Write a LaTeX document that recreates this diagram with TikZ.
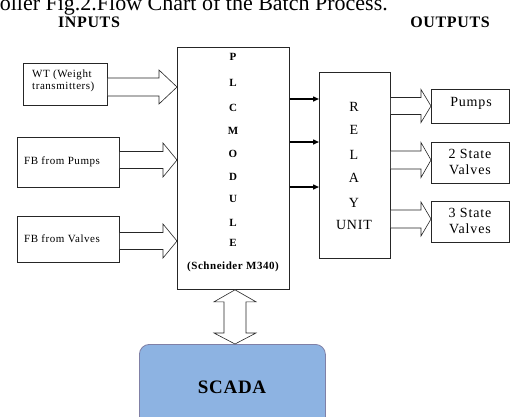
\documentclass[tikz,border=0pt]{standalone}
\usepackage{fontspec}
\setmainfont{Liberation Serif}
\usetikzlibrary{calc,arrows.meta}
\tikzset{
  box/.style={draw=black!85, line width=0.8pt, inner sep=0pt, anchor=north west},
  fat/.style={draw=black!85, line width=0.6pt, fill=white, line join=miter},
  thinarr/.style={draw=black, line width=1.4pt, -{Triangle[length=6pt,width=5pt]}},
  txt/.style={inner sep=0pt, anchor=base},
  txtl/.style={inner sep=0pt, anchor=base west},
  smallf/.style={font=\fontsize{11}{13}\selectfont\addfontfeature{LetterSpace=5}},
  headf/.style={font=\fontsize{16}{18}\selectfont\bfseries\addfontfeature{LetterSpace=4}},
  plcf/.style={font=\fontsize{11}{13}\selectfont\bfseries\addfontfeature{LetterSpace=5}},
  relf/.style={font=\fontsize{14}{16}\selectfont\addfontfeature{LetterSpace=6}},
}
% #1 source point, #2 tip, #3 half body, #4 half head, #5 head length
\newcommand\fatarrowx[5]{%
  \draw[fat] ($(#1)+(0,#3)$) -- ($(#2)+(-#5,#3)$) -- ($(#2)+(-#5,#4)$) -- (#2)
    -- ($(#2)+(-#5,-#4)$) -- ($(#2)+(-#5,-#3)$) -- ($(#1)+(0,-#3)$);}
\begin{document}
\begin{tikzpicture}[x=1pt,y=1pt]
\useasboundingbox (0,0) rectangle (510,-416);
\clip (0,0) rectangle (510,-416);

% caption (cut off at the top)
\node[inner sep=0pt, anchor=base east, font=\fontsize{22}{24}\selectfont] (cap) at (388,-10) {oller Fig.2.Flow Chart of the Batch Process.};

% headings
\node[txt, headf] (inputs) at (89,-27) {INPUTS};
\node[txt, headf] (outputs) at (450,-27) {OUTPUTS};

% input boxes
\node[box, minimum width=84pt, minimum height=42pt] (wt) at (23,-63) {};
\node[txtl, smallf] (wt1) at (32,-77) {WT (Weight};
\node[txtl, smallf] (wt2) at (32,-89) {transmitters)};
\node[box, minimum width=102pt, minimum height=50pt] (fbp) at (17,-137) {};
\node[txtl, smallf] (fbpt) at (24,-164) {FB from Pumps};
\node[box, minimum width=102pt, minimum height=46pt] (fbv) at (17,-216) {};
\node[txtl, smallf] (fbvt) at (24,-242) {FB from Valves};

% PLC module
\node[box, minimum width=112pt, minimum height=242pt] (plc) at (177,-47) {};
\foreach \t/\y [count=\i] in {P/57,L/83,C/108,M/131,O/154,D/177,U/199,L/223,E/243}
  \node[txt, plcf] (plc\i) at (233,-\y-3.5) {\t};
\node[txt, plcf] (plcs) at (233,-269.5) {(Schneider M340)};

% relay unit
\node[box, minimum width=71pt, minimum height=186pt] (relay) at (319,-72) {};
\foreach \t/\y [count=\i] in {R/107,E/130,L/155,A/178,Y/203,UNIT/225}
  \node[txt, relf] (rel\i) at (354,-\y-4.5) {\t};

% output boxes
\node[box, minimum width=78pt, minimum height=34pt] (pumps) at (431,-89) {};
\node[txt, relf] (pumpst) at (471,-106) {Pumps};
\node[box, minimum width=78pt, minimum height=41pt] (sv2) at (431,-142) {};
\node[txt, relf] (sv2a) at (470,-158) {2 State};
\node[txt, relf] (sv2b) at (470,-174) {Valves};
\node[box, minimum width=78pt, minimum height=41pt] (sv3) at (431,-201) {};
\node[txt, relf] (sv3a) at (470,-217) {3 State};
\node[txt, relf] (sv3b) at (470,-233) {Valves};

% SCADA
\node[box, draw=black!70!blue!50, line width=0.8pt, fill={rgb,255:red,141;green,179;blue,226},
      rounded corners=10pt, minimum width=186pt, minimum height=90pt] (scada) at (139,-344) {};
\node[txt, font=\fontsize{19}{21}\selectfont\bfseries\addfontfeature{LetterSpace=4}] (scadat) at (232,-393.5) {SCADA};

% input block arrows
\coordinate (a1) at (0,-87);
\coordinate (a2) at (0,-160);
\coordinate (a3) at (0,-241);
\fatarrowx{wt.east|-a1}{plc.west|-a1}{9}{17}{18}
\fatarrowx{fbp.east|-a2}{plc.west|-a2}{8.5}{17}{14}
\fatarrowx{fbv.east|-a3}{plc.west|-a3}{8.5}{17}{14}

% PLC -> relay
\foreach \y [count=\i] in {99,142,187} {
  \coordinate (r\i) at (0,-\y);
  \draw[thinarr] (plc.east|-r\i) -- (relay.west|-r\i);
}

% output block arrows
\coordinate (o1) at (0,-106);
\coordinate (o2) at (0,-160);
\coordinate (o3) at (0,-219);
\fatarrowx{relay.east|-o1}{pumps.west|-o1}{8.5}{16.5}{10}
\fatarrowx{relay.east|-o2}{sv2.west|-o2}{9}{17.5}{10}
\fatarrowx{relay.east|-o3}{sv3.west|-o3}{9}{17}{10}

% double arrow PLC <-> SCADA
\coordinate (dx) at (235,0);
\coordinate (dt) at (plc.south -| dx);
\coordinate (db) at (scada.north -| dx);
\draw[fat] (dt) -- ($(dt)+(21,-12)$) -- ($(dt)+(11,-12)$) -- ($(db)+(11,11)$) -- ($(db)+(21,11)$)
  -- (db) -- ($(db)+(-21,11)$) -- ($(db)+(-11,11)$) -- ($(dt)+(-11,-12)$) -- ($(dt)+(-21,-12)$) -- cycle;
\end{tikzpicture}
\end{document}
